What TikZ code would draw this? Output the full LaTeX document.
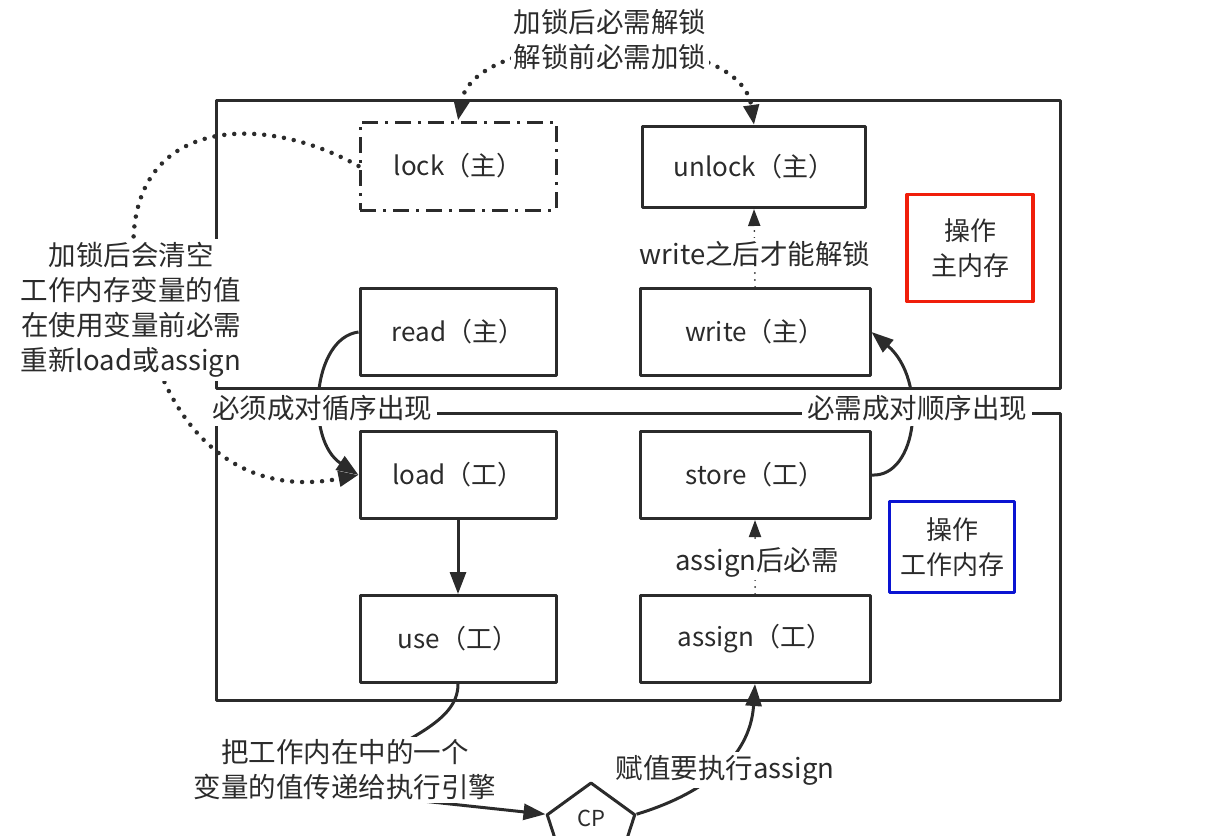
\documentclass[tikz,border=0pt]{standalone}
\usepackage{fontspec}
\setmainfont{Noto Sans CJK SC}
\usetikzlibrary{arrows.meta,shapes.geometric}
\definecolor{ink}{HTML}{2B2B2B}
\definecolor{mainred}{HTML}{F01E0A}
\definecolor{workblue}{HTML}{0A14D2}

\begin{document}
\begin{tikzpicture}[x=1pt,y=-1pt,line join=round,
  every node/.style={font=\fontsize{27.5}{35}\selectfont,text=ink},
  opbox/.style={draw=ink,line width=3pt,minimum height=87pt,inner sep=0pt,
    font=\fontsize{26}{35}\selectfont},
  frame/.style={draw=ink,line width=3pt},
  conn/.style={draw=ink,line width=3pt,-{Triangle[length=22pt,width=16pt]}},
  dots/.style={draw=ink,line width=4.5pt,line cap=round,dash pattern=on 0pt off 10pt},
  fine/.style={draw=ink,line width=2pt,line cap=round,dash pattern=on 0pt off 7pt,
    -{Triangle[length=17pt,width=12pt]}},
  tag/.style={fill=white,inner sep=3pt,align=center},
  legend/.style={line width=3.5pt,minimum width=126pt,inner sep=0pt,align=center,
    font=\fontsize{26}{35}\selectfont},
]
\useasboundingbox (0,0) rectangle (1231,835);
\clip (0,0) rectangle (1231,835);

% the two memory areas
\draw[frame] (216,100) rectangle (1060,388);
\draw[frame] (216,413) rectangle (1060,700);

% operations
\node[opbox,minimum width=196pt,minimum height=88pt,
  dash pattern=on 16pt off 7pt on 3pt off 7pt] (lock) at (458,166) {lock（主）};
\node[opbox,minimum width=223pt,minimum height=81pt] (unlock) at (754,167) {unlock（主）};
\node[opbox,minimum width=196pt] (read) at (458,332) {read（主）};
\node[opbox,minimum width=230pt] (write) at (755,332) {write（主）};
\node[opbox,minimum width=196pt] (load) at (458,475) {load（工）};
\node[opbox,minimum width=230pt] (store) at (755,475) {store（工）};
\node[opbox,minimum width=196pt] (use) at (458,639) {use（工）};
\node[opbox,minimum width=230pt] (assign) at (755,639) {assign（工）};

% legend boxes
\node[legend,draw=mainred,minimum height=107pt] (mainmem) at (970,248) {操作\\主内存};
\node[legend,draw=workblue,minimum width=125pt,minimum height=91pt] (workmem) at (952,547) {操作\\工作内存};

% execution engine
\node[regular polygon,regular polygon sides=5,minimum size=92pt,draw=ink,
  line width=3pt,inner sep=0pt] (cp) at (591,829) {};
\node[font=\fontsize{22}{26}\selectfont,inner sep=0pt] (cplabel) at (591,818) {CP};

% connectors
\draw[dots,{Triangle[length=20pt,width=15pt]}-{Triangle[length=20pt,width=15pt]}]
  (lock.north) .. controls (475,25) and (740,25) .. (unlock.north);
\draw[dots,-{Triangle[length=20pt,width=15pt]}]
  (lock.west) .. controls (250,105) and (100,120) .. (140,300)
  .. controls (160,420) and (230,500) .. (load.west);
\draw[fine] (write.north) -- (unlock.south);
\draw[fine] (assign.north) -- (store.south);
\draw[conn] (load) -- (use);
\draw[conn] (read.west) .. controls (312,338) and (305,440) .. (load.west);
\draw[conn] (store.east) .. controls (918,478) and (928,380) .. (write.east);
\draw[conn] (use.south) .. controls (458,725) and (400,740) .. (320,790) -- (cp.corner 2);
\draw[conn] (cp.corner 5) .. controls (700,795) and (750,760) .. (assign.south);

% labels
\node[tag] (locknote) at (610,40) {加锁后必需解锁\\解锁前必需加锁};
\node[tag,inner sep=3pt] (clearnote) at (131,310) {加锁后会清空\\工作内存变量的值\\在使用变量前必需\\重新load或assign};
\node[tag] (writenote) at (755,254) {write之后才能解锁};
\node[tag] (assignnote) at (757,562) {assign后必需};
\node[tag,inner sep=5pt] (readpair) at (322,408) {必须成对循序出现};
\node[tag,inner sep=5pt] (storepair) at (917,408) {必需成对顺序出现};
\node[tag] (usenote) at (345,770) {把工作内在中的一个\\变量的值传递给执行引擎};
\node[tag] (assignexec) at (725,770) {赋值要执行assign};
\end{tikzpicture}
\end{document}
